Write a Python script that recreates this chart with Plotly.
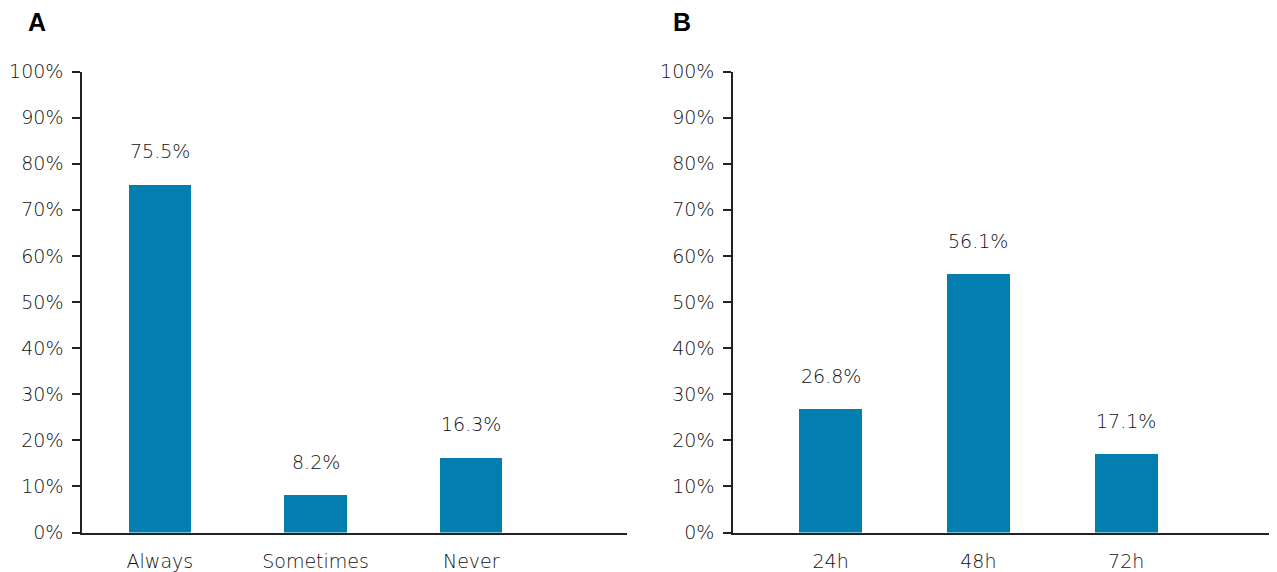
import plotly.graph_objects as go

cats_a = ["Always", "Sometimes", "Never"]
vals_a = [75.5, 8.2, 16.3]
cats_b = ["24h", "48h", "72h"]
vals_b = [26.8, 56.1, 17.1]
y_ticks = [0, 10, 20, 30, 40, 50, 60, 70, 80, 90, 100]
y_tick_labels = [f"{v}%" for v in y_ticks]

# page has an 8px body margin; figure coords = reference coords - 8
OFF = 8
W, H = 1277 - OFF, 572 - OFF
BAR = "#037EAE"
TXT = "#111111"
AX = "#222222"
FONT = "DejaVu Sans"
FS = 19

def px_x(rx):
    return (rx - OFF) / W

def px_y(ry):
    return (H - (ry - OFF)) / H

fig = go.Figure()
fig.add_trace(go.Bar(x=cats_a, y=vals_a, marker=dict(color=BAR, line=dict(width=0)),
                     width=0.40, xaxis="x", yaxis="y", hoverinfo="skip"))
fig.add_trace(go.Bar(x=cats_b, y=vals_b, marker=dict(color=BAR, line=dict(width=0)),
                     width=0.426, xaxis="x2", yaxis="y2", hoverinfo="skip"))

tf = dict(family=FONT, size=FS, color=TXT, weight=300)
ydom = [px_y(532.5), px_y(71.5)]
yax = dict(range=[0, 100], tickvals=y_ticks, ticktext=y_tick_labels,
           showgrid=False, zeroline=False, showline=True, linecolor=AX, linewidth=1.5,
           ticks="outside", ticklen=8, tickwidth=1.5, tickcolor=AX,
           tickfont=tf, domain=ydom, automargin=False, fixedrange=True,
           ticklabelstandoff=5)
xax = dict(showgrid=False, zeroline=False, showline=True, linecolor=AX, linewidth=2,
           ticks="", tickfont=tf, automargin=False, type="category",
           ticklabelstandoff=11)

fig.update_layout(
    width=W, height=H, margin=dict(l=0, r=0, t=0, b=0),
    plot_bgcolor="white", paper_bgcolor="white", showlegend=False,
    bargap=0,
    xaxis=dict(xax, domain=[px_x(82), px_x(627)], range=[-0.5, 3.0], anchor="y"),
    yaxis=dict(yax, anchor="x"),
    xaxis2=dict(xax, domain=[px_x(733), 1.0], range=[-0.66, 3.02], anchor="y2"),
    yaxis2=dict(yax, anchor="x2"),
)

anns = []
for c, v in zip(cats_a, vals_a):
    anns.append(dict(x=c, y=v, xref="x", yref="y", text=f"{v}%", showarrow=False,
                     yshift=33, font=tf))
for c, v in zip(cats_b, vals_b):
    anns.append(dict(x=c, y=v, xref="x2", yref="y2", text=f"{v}%", showarrow=False,
                     yshift=33, font=tf))
for lbl, rx in (("A", 37), ("B", 682)):
    anns.append(dict(x=px_x(rx), y=px_y(22), xref="paper", yref="paper",
                     text=f"<b>{lbl}</b>", showarrow=False, xanchor="center",
                     yanchor="middle",
                     font=dict(family="Liberation Sans", size=25, color="#000")))
fig.update_layout(annotations=anns)

fig.write_html("out.html")
